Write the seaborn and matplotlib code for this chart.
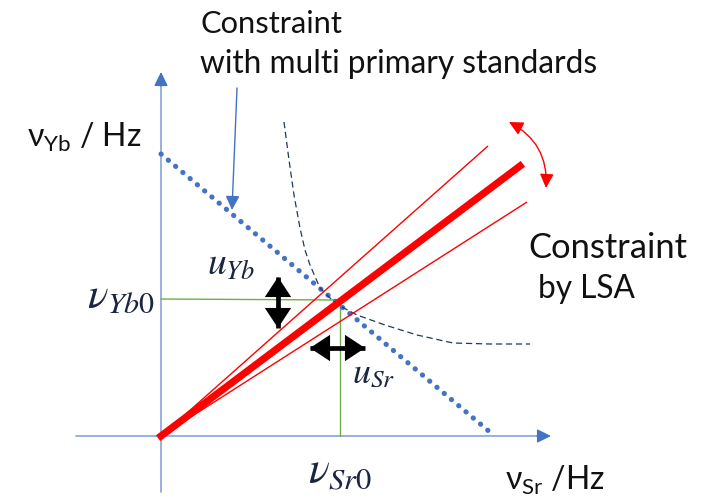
import matplotlib
matplotlib.use("Agg")
import matplotlib.pyplot as plt
import seaborn as sns
import pandas as pd
from matplotlib.patches import FancyArrowPatch

# ---- diagram geometry (image pixel frame: x to the right, y downward) ----
origin = (161, 436)
y_axis_x = [161, 161]
y_axis_y = [492, 78]
y_axis_tip = (161, 72)
x_axis_x = [76, 544]
x_axis_y = [436, 436]
x_axis_tip = (551, 436)

multi_x = [161, 491]          # constraint with multi primary standards
multi_y = [154, 433]

lsa_names = ["upper", "best", "lower"]
lsa_x_end = [488, 520, 527]
lsa_y_end = [146, 166, 202]
lsa_widths = [1.0, 5.2, 1.0]

curve_x = [284, 289, 294, 300, 305, 310, 320, 330, 338, 357, 385, 417, 453, 490, 530]
curve_y = [122, 160, 195, 228, 250, 265, 288, 298, 305, 315, 325, 335, 343, 344, 344]

nu_sr0_x = 340
nu_yb0_y = 299

# uncertainty arrows (start, end)
u_yb_arrow = [(278, 277), (278, 328)]
u_sr_arrow = [(310, 348), (365, 348)]

# label texts
top_label_1 = "Constraint"
top_label_2 = "with multi primary standards"
lsa_label_1 = "Constraint"
lsa_label_2 = "by LSA"
yb_axis_label = r"$\mathregular{\nu_{Yb}}$ / Hz"
sr_axis_label = r"$\mathregular{\nu_{Sr}}$ /Hz"

BLUE = "#4472C4"
AXBLUE = "#8FAADC"
GREEN = "#70AD47"
RED = "#FF0000"
NAVY = "#1F3864"
TXT = "#111111"
MTXT = "#1b2440"

sns.set_theme(style="white")
plt.rcParams["font.family"] = ["Lato", "DejaVu Sans"]
plt.rcParams["mathtext.fontset"] = "stix"

fig = plt.figure(figsize=(7.15, 4.97), dpi=100)
ax = fig.add_axes([0, 0, 1, 1])
ax.set_xlim(0, 715)
ax.set_ylim(497, 0)
ax.axis("off")
renderer = fig.canvas.get_renderer()


def line(xs, ys, **kw):
    df = pd.DataFrame({"x": xs, "y": ys})
    n_before = len(ax.lines)
    sns.lineplot(data=df, x="x", y="y", ax=ax, sort=False, estimator=None,
                 legend=False, color=kw["color"], linewidth=kw["linewidth"])
    ln = ax.lines[n_before]
    if "ls" in kw:
        ln.set_linestyle(kw["ls"])
    if "cap" in kw:
        ln.set_dash_capstyle(kw["cap"])
        ln.set_solid_capstyle(kw["cap"])
    ln.set_zorder(kw.get("z", 2))
    return ln


def arrow(p0, p1, color, style, lw=1.0, scale=10, rad=0.0, z=5):
    a = FancyArrowPatch(p0, p1, arrowstyle=style, mutation_scale=scale,
                        color=color, lw=lw, shrinkA=0, shrinkB=0,
                        connectionstyle=f"arc3,rad={rad}", zorder=z)
    ax.add_patch(a)
    return a


def fitted_text(x, y, s, width, fs0, color=TXT, ha="left"):
    t = ax.text(x, y, s, fontsize=fs0, color=color, ha=ha, va="baseline")
    for _ in range(3):
        w = t.get_window_extent(renderer=renderer).width
        t.set_fontsize(t.get_fontsize() * width / w)
    return t


def block_double_arrow(p0, p1):
    # shaft
    line([p0[0], p1[0]], [p0[1], p1[1]], color="black", linewidth=3.4, cap="butt", z=6)
    # filled heads only (no outline stroke)
    a = arrow(p0, p1, "black", "<|-|>,head_length=0.76,head_width=0.5", lw=0, scale=19, z=7)
    a.set_linewidth(0)


SMALL_HEAD = "-|>,head_length=0.85,head_width=0.42"

# axes
line(y_axis_x, y_axis_y, color=AXBLUE, linewidth=1.3)
line(x_axis_x, x_axis_y, color=AXBLUE, linewidth=1.3)
arrow((y_axis_tip[0], y_axis_tip[1] + 14), y_axis_tip, BLUE, SMALL_HEAD, lw=1.0, scale=10)
arrow((x_axis_tip[0] - 14, x_axis_tip[1]), x_axis_tip, BLUE, SMALL_HEAD, lw=1.0, scale=10)

# green reference lines
line([origin[0], nu_sr0_x], [nu_yb0_y, nu_yb0_y + 1], color=GREEN, linewidth=1.0)
line([nu_sr0_x, nu_sr0_x], [nu_yb0_y + 1, origin[1]], color=GREEN, linewidth=1.0)

# constraint with multi primary standards (dotted)
line(multi_x, multi_y, color=BLUE, linewidth=3.7, ls=(0, (0.05, 1.8)), cap="round", z=3)

# dashed hyperbola-like curve
line(curve_x, curve_y, color=NAVY, linewidth=0.9, ls=(0, (5, 3)), z=3)

# LSA lines
for name, xe, ye, w in zip(lsa_names, lsa_x_end, lsa_y_end, lsa_widths):
    line([origin[0], xe], [origin[1], ye], color=RED, linewidth=w,
         cap="butt" if w < 2 else "projecting", z=4)

# red curved double arrow
arrow((509, 122), (546, 188), RED, "<|-|>,head_length=0.85,head_width=0.42",
      lw=1.0, scale=10, rad=-0.32)

# pointer arrow
arrow((237, 88), (232, 210), BLUE, SMALL_HEAD, lw=1.0, scale=10)

# black uncertainty arrows
block_double_arrow(*u_yb_arrow)
block_double_arrow(*u_sr_arrow)

# texts (size fitted to the measured width of each label)
fitted_text(200, 33, top_label_1, 142, 22)
fitted_text(200, 73, top_label_2, 398, 22)
fitted_text(27, 147, yb_axis_label, 115, 21)
fitted_text(528, 258, lsa_label_1, 159, 24)
fitted_text(538, 298, lsa_label_2, 97, 24)
fitted_text(505, 490, sr_axis_label, 100, 21)

fitted_text(155, 307, r"$\nu_{Yb0}$", 68, 29, color=MTXT, ha="right")
fitted_text(207, 275, r"$u_{Yb}$", 48, 29, color=MTXT)
fitted_text(352, 383, r"$u_{Sr}$", 43, 29, color=MTXT)
fitted_text(308, 483, r"$\nu_{Sr0}$", 64, 29, color=MTXT)

fig.savefig("out.png", dpi=100)
